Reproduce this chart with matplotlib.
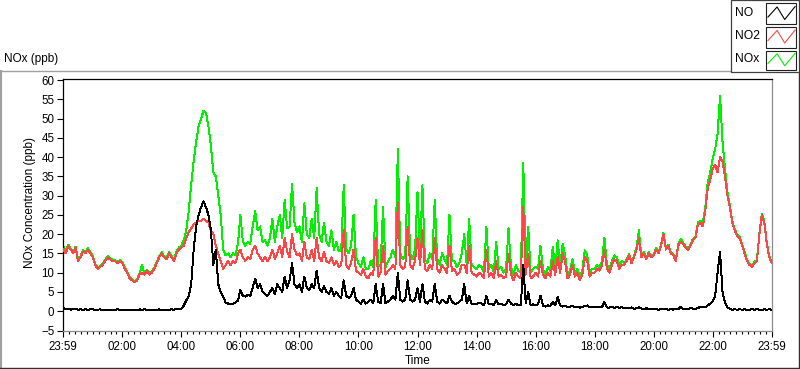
import numpy as np
import matplotlib
matplotlib.use("Agg")
import matplotlib.pyplot as plt
from matplotlib.patches import Rectangle
from matplotlib.lines import Line2D
from matplotlib.ticker import MultipleLocator, FixedLocator, FixedFormatter

plt.rcParams['font.family'] = ['Liberation Sans', 'DejaVu Sans']

W, H = 800, 369

series_names = ["NO", "NO2", "NOx"]
series_colors = ["#000000", "#ff4646", "#00f000"]
tick_minutes = [0, 120, 240, 360, 480, 600, 720, 840, 960, 1080, 1200, 1320, 1440]
tick_labels = ["23:59", "02:00", "04:00", "06:00", "08:00", "10:00", "12:00",
               "14:00", "16:00", "18:00", "20:00", "22:00", "23:59"]
sample_step_min = 5

# NO (ppb), 5-minute samples, one row per hour
no = [
    1.0, 0.5, 0.6, 0.4, 0.5, 0.7, 0.4, 0.5, 0.3, 0.5, 0.4, 0.5,
    0.5, 0.3, 0.4, 0.5, 0.3, 0.4, 0.2, 0.3, 0.4, 0.3, 0.5, 0.3,
    0.2, 0.3, 0.2, 0.3, 0.4, 0.3, 0.2, 0.5, 0.3, 0.6, 0.3, 0.4,
    0.3, 0.4, 0.3, 0.5, 0.3, 0.4, 0.3, 0.3, 0.5, 0.4, 0.6, 0.5,
    0.6, 1.5, 2.8, 4, 7, 16, 22, 25, 27, 28.5, 27, 25,
    21, 12, 16, 7, 5, 3.8, 2.2, 2, 1.8, 2, 2.2, 2.8,
    5.5, 4, 3.8, 4.2, 4, 6, 8.5, 6, 7, 5, 4.5, 4,
    5, 6, 4.5, 7, 6, 5, 9, 6, 8, 12.5, 7, 6,
    7, 5, 9, 6, 5.5, 7, 6, 10.5, 6, 5, 6.5, 5,
    4.5, 6, 4, 5, 4, 3.5, 8, 4, 3.5, 4, 6, 3,
    2.5, 2, 3, 2, 2.5, 3, 2, 7, 2.5, 2, 7, 2,
    2.5, 3, 4, 3, 10, 3, 2.5, 3, 8, 3, 2.5, 3,
    6, 2.5, 7, 2.5, 2, 3, 2.5, 7, 2.5, 2, 3, 2.5,
    2, 4, 2.5, 2, 2, 2.5, 3, 7, 2, 4, 2, 2,
    1.8, 2.2, 2, 1.5, 4, 1.8, 2, 1.5, 3, 1.8, 2, 1.5,
    1.8, 3, 2, 1.5, 2, 1.5, 1.5, 12, 2, 5, 1.5, 1.8,
    1.5, 1.8, 4, 1.5, 1.2, 1.5, 1.3, 2.5, 1.5, 3.7, 1.5, 1.2,
    1.5, 1, 1.2, 1.5, 1, 1.2, 0.9, 1.1, 1.3, 1.5, 1, 1.1,
    1, 1.2, 1, 1.1, 2.4, 1, 0.9, 1.2, 0.8, 1.1, 0.9, 1,
    0.8, 0.9, 0.7, 1, 0.6, 0.8, 1, 0.7, 0.6, 0.8, 0.5, 0.6,
    0.5, 0.6, 0.4, 0.5, 0.6, 0.5, 0.4, 0.5, 0.4, 0.6, 0.5, 1.2,
    0.6, 0.5, 0.6, 0.8, 0.7, 0.6, 0.8, 1.2, 1, 1, 1.5, 2,
    2.5, 4, 10, 15.5, 5, 2.2, 1, 0.6, 0.4, 0.5, 0.4, 0.5,
    0.4, 0.5, 0.3, 0.4, 0.5, 0.4, 0.5, 0.4, 0.3, 0.5, 0.4, 0.5,
    0.4,
]

# NO2 (ppb)
no2 = [
    16, 15, 17, 16, 15, 16.5, 13, 14, 15.5, 15, 16, 15,
    14, 12, 11, 11.5, 12, 13, 14, 13.5, 13, 13, 12.5, 13,
    12.5, 11, 10, 8.5, 8, 7.5, 8, 9.5, 10, 9.5, 10.5, 9.5,
    10, 11, 12.5, 14, 15, 14, 13.5, 15, 14, 13, 15, 16,
    16.5, 17, 19, 20.5, 21.5, 22.5, 23, 23.5, 23.5, 24, 23.5, 23,
    21, 20, 17, 15, 13, 11, 12, 13, 12, 13, 12.5, 15,
    16, 14, 13, 14, 13.5, 16, 17, 15, 14, 13, 14, 13,
    14, 16, 13.5, 15, 17, 14, 19, 15.5, 14, 20, 16, 14.5,
    15, 13, 18, 14, 13.5, 16, 13, 19, 14, 13, 15.5, 13,
    12.5, 14, 12, 13, 11.5, 12, 21, 12, 11, 12.5, 16, 10.5,
    10, 9.5, 11, 9, 8.5, 10, 9.5, 19, 9, 10, 17, 9.5,
    10.5, 11, 12, 11, 28, 12, 11, 11.5, 22, 12, 11, 13,
    19, 12, 21, 11, 10.5, 12, 11, 19, 11, 10, 12, 11,
    10, 17, 10.5, 11, 9.5, 10, 12, 12, 10, 17, 10, 9.5,
    9, 10, 9.5, 8.5, 16, 9, 10, 8.5, 13, 9, 9.5, 8.5,
    9, 15, 9.5, 8, 10, 9, 8.5, 27, 9.5, 15, 8.5, 9,
    10, 9, 13, 9.5, 8.5, 10, 9, 13, 9.5, 14, 10, 15,
    13, 8.5, 9.5, 12, 9, 10, 8, 9.5, 14, 13, 9, 10,
    10, 11, 10.5, 12, 16, 11, 10, 12, 13.5, 13, 11, 12,
    12, 13, 14.5, 12.5, 14, 16, 19, 14, 15, 13.5, 15, 14,
    14.5, 16, 15, 17, 20, 16, 17, 15, 14.5, 13, 17, 18,
    17.5, 16.5, 16, 17, 18.5, 19, 22.5, 23, 22, 26, 32, 34,
    37, 38, 36, 40, 39, 35, 30, 27, 23, 21, 19.5, 19,
    17, 15, 13, 12, 11.5, 12.5, 13, 20, 25, 23, 17.5, 14,
    12.5,
]

# NOx (ppb)
nox = [
    17, 15.3, 17.3, 16.3, 15.3, 16.8, 13.3, 14.3, 15.8, 15.3, 16.3, 15.3,
    14.3, 12.3, 11.3, 11.8, 12.3, 13.3, 14.3, 13.8, 13.3, 13.3, 12.8, 13.3,
    12.8, 11.3, 10.3, 8.8, 8.3, 7.8, 8.3, 9.8, 12, 9.8, 10.8, 9.8,
    10.3, 11.3, 12.8, 14.3, 15.3, 14.3, 13.8, 15.3, 14.3, 13.3, 15.5, 16.5,
    17, 18.5, 21, 26, 33, 39, 44, 48, 50, 52, 51.5, 48,
    43, 36, 35, 30, 25, 16, 14.5, 15, 14, 15, 14.5, 17.5,
    25, 18, 17, 18, 17.5, 22, 26, 21, 22, 18, 18.5, 17,
    19, 24, 18, 22, 25, 19, 29, 21.5, 22, 33, 23, 20.5,
    22, 18, 28, 20, 19, 24, 19, 32, 20, 18, 23, 18,
    17, 21, 16, 18, 15.5, 16, 32.7, 16, 15, 17, 25, 14,
    12.5, 11.5, 14, 11, 11, 13, 11.5, 28.8, 11.5, 12, 27, 11.5,
    13, 14, 16, 14, 42, 15, 13.5, 14.5, 35, 15, 13.5, 16,
    31, 14.5, 32.7, 13.5, 12.5, 15, 13.5, 29, 13.5, 12, 15, 13.5,
    12, 25, 13, 13, 11.5, 12.5, 15, 20, 12, 24, 12, 11.5,
    11, 12, 11.5, 10, 22, 11, 12, 10, 18, 11, 11.5, 10,
    11, 21.5, 11.5, 9.5, 12, 10.5, 10, 38.4, 11.5, 22, 10, 11,
    11.5, 11, 17, 11, 9.5, 11.5, 10.5, 16.7, 11, 18.4, 11.5, 17.5,
    14.5, 9.5, 10.5, 13.5, 10, 11, 9, 10.5, 15.8, 14.5, 10, 11,
    11, 12, 11.5, 13, 19, 12, 11, 13, 14.5, 14, 12, 13,
    12.5, 13.3, 14.8, 12.8, 14.3, 16.5, 21, 14.3, 15.3, 13.8, 15.3, 14.3,
    14.8, 16.3, 15.3, 17.3, 20.3, 16.3, 17.3, 15.3, 14.8, 13.3, 17.3, 18.8,
    17.8, 16.8, 16.3, 17.3, 18.8, 19.3, 23, 23.5, 23, 27, 33.5, 36,
    39.5, 42, 46, 56, 44, 37, 31, 27.3, 23.3, 21.3, 19.8, 19.3,
    17.3, 15.3, 13.3, 12.3, 11.8, 12.8, 13.3, 20.3, 25.3, 23.3, 17.8, 14.3,
    12.8,
]

assert len(no) == len(no2) == len(nox) == 289

t = np.arange(len(no)) * sample_step_min


def fx(x):
    return x / W


def fy(y):
    return 1 - y / H


fig = plt.figure(figsize=(W / 100, H / 100), dpi=100)
fig.patch.set_facecolor('white')

ax = fig.add_axes([fx(63.3), fy(330.5), fx(771.7) - fx(63.3), fy(78.5) - fy(330.5)])
ax.set_facecolor('white')

line_kw = dict(lw=0.7, antialiased=False)
ax.plot(t, nox, color=series_colors[2], zorder=2, **line_kw)
ax.plot(t, no2, color=series_colors[1], zorder=3, **line_kw)
ax.plot(t, no, color=series_colors[0], zorder=4, **line_kw)

ax.set_xlim(0, 1440)
ax.set_ylim(-5, 60.4)

ax.xaxis.set_major_locator(FixedLocator(tick_minutes))
ax.xaxis.set_major_formatter(FixedFormatter(tick_labels))
ax.xaxis.set_minor_locator(MultipleLocator(12))
ax.yaxis.set_major_locator(MultipleLocator(5))

for s in ['left', 'top']:
    ax.spines[s].set_color('black')
    ax.spines[s].set_linewidth(0.9)
for s in ['right', 'bottom']:
    ax.spines[s].set_color('#8c8c8c')
    ax.spines[s].set_linewidth(0.9)

ax.tick_params(axis='y', direction='out', length=4.5, width=0.8, pad=2,
               labelsize=8.3, colors='black')
ax.tick_params(axis='x', which='major', direction='out', length=4.5, width=0.8,
               pad=3, labelsize=8.3, colors='black')
ax.tick_params(axis='x', which='minor', direction='out', length=2.2, width=0.8)

# Axis titles
fig.text(fx(418), fy(361), "Time", ha='center', va='center', fontsize=8.5)
fig.text(fx(30), fy(203), "NOx Concentration (ppb)", ha='center', va='center',
         rotation=90, fontsize=8.5)
fig.text(fx(4), fy(59), "NOx (ppb)", ha='left', va='center', fontsize=8.5)

# Outer frame (sunken look)
frame_light = '#a0a0a0'
frame_dark = '#303030'
fig.add_artist(Line2D([fx(0), fx(730)], [fy(70.5), fy(70.5)], transform=fig.transFigure,
                      color=frame_light, lw=1.0))
fig.add_artist(Line2D([fx(1.0), fx(1.0)], [fy(70.5), fy(367)], transform=fig.transFigure,
                      color=frame_light, lw=1.5))
fig.add_artist(Line2D([fx(0), fx(800)], [fy(367.5), fy(367.5)], transform=fig.transFigure,
                      color=frame_dark, lw=1.0))
fig.add_artist(Line2D([fx(799.3), fx(799.3)], [fy(70.5), fy(368)], transform=fig.transFigure,
                      color=frame_dark, lw=1.0))

# Legend
fig.add_artist(Rectangle((fx(730.5), fy(71.5)), fx(798.5) - fx(730.5), fy(0) - fy(71.5),
                         transform=fig.transFigure, facecolor='white',
                         edgecolor='#404040', lw=0.9, zorder=5))
legend_rows = [(3.5, 24.0, 13.5), (27.0, 47.5, 36.0), (50.5, 70.0, 58.5)]
zig_x = [0.08, 0.38, 0.63, 0.97]
zig_y = [0.34, 0.83, 0.22, 0.85]
bx0, bx1 = 765.5, 796.0
for name, col, (y0, y1, yc) in zip(series_names, series_colors, legend_rows):
    fig.text(fx(735), fy(yc), name, ha='left', va='center', fontsize=8.7, zorder=6)
    fig.add_artist(Rectangle((fx(bx0), fy(y1)), fx(bx1) - fx(bx0), fy(y0) - fy(y1),
                             transform=fig.transFigure, facecolor='white',
                             edgecolor='#202020', lw=0.8, zorder=6))
    xs = [fx(bx0 + zx * (bx1 - bx0)) for zx in zig_x]
    ys = [fy(y1 - zy * (y1 - y0)) for zy in zig_y]
    fig.add_artist(Line2D(xs, ys, transform=fig.transFigure, color=col, lw=0.8, zorder=7))

fig.savefig("out.png", dpi=100, facecolor='white')
